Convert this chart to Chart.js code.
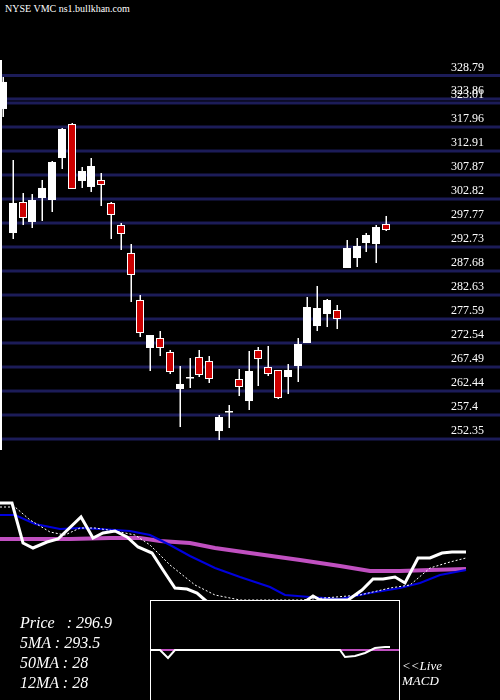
<!DOCTYPE html>
<html>
<head>
<meta charset="utf-8">
<script src="https://cdn.jsdelivr.net/npm/chart.js@4.4.0/dist/chart.umd.min.js"></script>
<style>
  body { margin: 0; background: #000; width: 500px; height: 700px; overflow: hidden; position: relative; font-family: 'DejaVu Serif', serif; }
  canvas { position: absolute; }
  .t { position: absolute; color: #fff; font-family: 'Liberation Serif', serif; font-style: italic; white-space: pre; }
</style>
</head>
<body>
<div class="t" style="left:5px;top:3px;font-style:normal;font-size:10px">NYSE VMC ns1.bullkhan.com</div>
<canvas id="price" width="500" height="460" style="left:0;top:0"></canvas>
<canvas id="osc" width="500" height="210" style="left:0;top:490px"></canvas>
<canvas id="macd" width="250" height="100" style="left:150px;top:600px"></canvas>
<div class="t" style="left:20px;top:614px;font-size:16px">Price   : 296.9</div>
<div class="t" style="left:20px;top:634px;font-size:16px">5MA : 293.5</div>
<div class="t" style="left:20px;top:654px;font-size:16px">50MA : 28</div>
<div class="t" style="left:20px;top:674px;font-size:16px">12MA : 28</div>
<div class="t" style="left:402px;top:658px;font-size:13px">&lt;&lt;Live</div>
<div class="t" style="left:402px;top:673px;font-size:13px">MACD</div>
<script>
// candles: open, high, low, close
const opens  = [321.75,295.67,301.98,297.99,303.03,302.61,311.44,318.38,306.61,305.35,306.61,301.77,297.14,291.26,281.37,271.49,273.38,270.44,262.87,265.39,269.38,268.54,254.03,258.24,264.76,260.34,270.86,267.28,266.65,265.39,267.70,272.54,276.11,278.64,279.27,288.31,290.41,293.57,293.36,297.35]
const highs  = [328.48,311.02,304.08,303.87,306.82,310.81,317.75,318.80,309.55,311.44,308.29,302.19,297.77,293.36,282.63,274.22,275.06,271.07,267.70,269.38,271.07,269.80,257.40,259.50,267.07,270.86,271.70,271.91,266.86,268.12,273.59,282.21,284.53,281.79,280.53,294.20,294.62,295.67,297.35,299.25]
const lows   = [320.07,294.41,297.35,296.72,298.20,300.09,309.13,304.93,305.14,304.29,301.35,294.41,292.10,281.16,273.80,266.65,269.80,266.02,254.87,263.08,265.39,264.13,252.14,254.66,261.39,258.45,263.50,265.60,260.76,261.81,264.34,272.54,275.06,275.90,275.48,288.31,288.52,291.68,289.36,296.09]
const closes = [327.43,301.98,299.04,302.61,305.14,310.60,317.54,305.14,308.71,309.76,305.98,299.67,295.67,287.05,274.85,274.22,271.70,266.65,263.92,265.39,266.02,265.18,256.98,258.24,263.50,266.65,269.38,266.23,261.18,266.86,272.33,280.11,279.90,281.58,277.80,292.52,292.94,295.25,296.93,296.51]
const tickValues = [328.79,323.86,323.01,317.96,312.91,307.87,302.82,297.77,292.73,287.68,282.63,277.59,272.54,267.49,262.44,257.4,252.35]

// lower panel
const fastLine = [[0,197],[12,197],[23,157],[33,152],[47,158],[58,161],[81,183],[93,162],[103,167],[115,169],[127,163],[138,153],[152,147],[163,130],[175,112],[187,111],[197,107],[205,100],[215,92],[240,85],[280,85],[300,95],[313,104],[320,100],[348,100],[362,110],[373,121],[383,121],[395,123],[405,117],[418,142],[430,142],[442,147],[452,148],[466,148]]
const dotLine  = [[0,193],[15,193],[30,180],[50,168],[65,165],[80,172],[95,172],[115,169],[135,165],[150,155],[170,135],[195,115],[215,105],[240,100],[300,100],[360,105],[390,112],[410,115],[430,132],[450,138],[466,142]]
const blueLine = [[0,185],[15,185],[35,176],[60,171],[80,172],[100,171],[130,169],[150,165],[170,155],[190,144],[215,132],[240,123],[270,113],[285,105],[310,103],[340,101],[350,103],[370,107],[400,112],[420,117],[440,125],[466,130]]
const pinkLine = [[0,161],[70,161],[110,162],[140,162],[160,159],[190,157],[215,152],[250,147],[300,140],[340,134],[370,129],[400,129],[430,130],[466,131]]
const macdSignal = [[0,50],[250,50]]
const macdLine = [[0,50],[10,50],[18,42],[25,50],[190,50],[195,43],[205,44],[215,47],[225,52],[235,53],[240,53]]

const pts = (arr) => arr.map(([x, y]) => ({ x, y }))

const candlePlugin = {
  id: 'candles',
  beforeDatasetsDraw(chart) {
    const { ctx, scales: { x, y } } = chart
    ctx.save()
    tickValues.forEach((v) => {
      const py = y.getPixelForValue(v)
      ctx.fillStyle = '#1c1c58'
      ctx.fillRect(0, py - 1.5, 500, 3)
      ctx.fillStyle = '#fff'
      ctx.font = '12px "Liberation Serif", serif'
      ctx.fillText(String(v), 451, py - 5)
    })
    ctx.fillStyle = '#fff'
    ctx.fillRect(0, 60, 2, 390)
    opens.forEach((o, i) => {
      const c = closes[i]
      const px = Math.round(x.getPixelForValue(i))
      ctx.fillStyle = '#fff'
      ctx.fillRect(px - 0.5, y.getPixelForValue(highs[i]), 1.5, y.getPixelForValue(lows[i]) - y.getPixelForValue(highs[i]))
      const top = y.getPixelForValue(Math.max(o, c))
      const h = Math.max(1.5, y.getPixelForValue(Math.min(o, c)) - top)
      if (c >= o) {
        ctx.fillStyle = '#fff'
        ctx.fillRect(px - 4, top, 8, h)
      } else {
        ctx.fillStyle = '#fff'
        ctx.fillRect(px - 4, top - 1, 8, h + 2)
        ctx.fillStyle = '#cc0000'
        ctx.fillRect(px - 3, top, 6, h)
      }
    })
    ctx.restore()
  },
}

new Chart(document.getElementById('price'), {
  type: 'line',
  data: { labels: closes.map((_, i) => i), datasets: [{ data: closes.map((c, i) => ({ x: i, y: c })), showLine: false, pointRadius: 0 }] },
  options: {
    responsive: false, animation: false,
    layout: { padding: { top: 60, bottom: 10 } },
    plugins: { legend: { display: false }, tooltip: { enabled: false } },
    scales: {
      x: { type: 'linear', display: false, min: -0.305, max: 50.61 },
      y: { display: false, min: 250.04, max: 332.05 },
    },
  },
  plugins: [candlePlugin],
})

const lineOpts = (xmax, ymax) => ({
  responsive: false, animation: false,
  plugins: { legend: { display: false }, tooltip: { enabled: false } },
  elements: { point: { radius: 0 }, line: { tension: 0 } },
  scales: {
    x: { type: 'linear', display: false, min: 0, max: xmax },
    y: { display: false, min: 0, max: ymax },
  },
})

// dataset 0 is drawn on top
new Chart(document.getElementById('osc'), {
  type: 'line',
  data: {
    datasets: [
      { data: pts(fastLine), borderColor: '#fff', borderWidth: 3 },
      { data: pts(dotLine), borderColor: '#fff', borderWidth: 1, borderDash: [2, 2] },
      { data: pts(blueLine), borderColor: '#0000dd', borderWidth: 2 },
      { data: pts(pinkLine), borderColor: '#c050c0', borderWidth: 4 },
    ],
  },
  options: lineOpts(500, 210),
})

const boxPlugin = {
  id: 'box',
  beforeDraw(chart) {
    const { ctx } = chart
    ctx.fillStyle = '#000'
    ctx.fillRect(0, 0, 250, 100)
  },
  afterDraw(chart) {
    const { ctx } = chart
    ctx.strokeStyle = '#fff'
    ctx.lineWidth = 1
    ctx.strokeRect(0.5, 0.5, 249, 110)
  },
}

new Chart(document.getElementById('macd'), {
  type: 'line',
  data: {
    datasets: [
      { data: pts(macdLine), borderColor: '#fff', borderWidth: 2 },
      { data: pts(macdSignal), borderColor: '#c050c0', borderWidth: 2 },
    ],
  },
  options: lineOpts(250, 100),
  plugins: [boxPlugin],
})
</script>
</body>
</html>
